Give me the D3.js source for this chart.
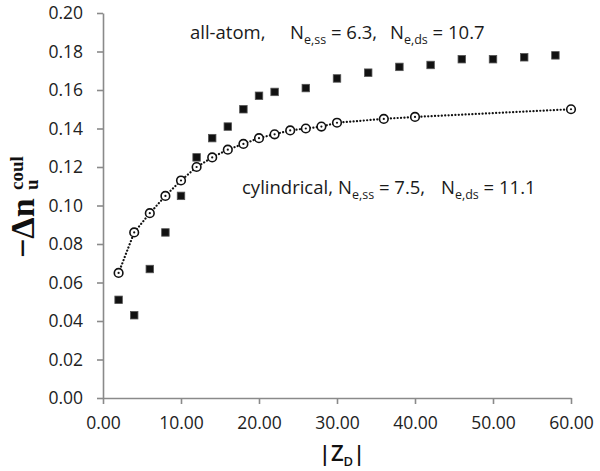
<!DOCTYPE html>
<html>
<head>
<meta charset="utf-8">
<script src="https://cdn.jsdelivr.net/npm/d3@7"></script>
<style>
  body { margin: 0; background: #fff; }
  svg { display: block; font-family: "Open Sans", sans-serif; }
</style>
</head>
<body>
<div id="chart"></div>
<script>
// data
var atomZ = [2, 4, 6, 8, 10, 12, 14, 16, 18, 20, 22, 26, 30, 34, 38, 42, 46, 50, 54, 58];
var atomVals = [0.051, 0.043, 0.067, 0.086, 0.105, 0.125, 0.135, 0.141, 0.150, 0.157, 0.159, 0.161, 0.166, 0.169, 0.172, 0.173, 0.176, 0.176, 0.177, 0.178];

var cylZ = [2, 4, 6, 8, 10, 12, 14, 16, 18, 20, 22, 24, 26, 28, 30, 36, 40, 60];
var cylVals = [0.065, 0.086, 0.096, 0.105, 0.113, 0.120, 0.125, 0.129, 0.132, 0.135, 0.137, 0.139, 0.140, 0.141, 0.143, 0.145, 0.146, 0.150];

var xTicks = [0, 10, 20, 30, 40, 50, 60];
var yTicks = [0, 0.02, 0.04, 0.06, 0.08, 0.10, 0.12, 0.14, 0.16, 0.18, 0.20];

var svgWidth = 600;
var svgHeight = 471;
var margin = { top: 13, right: 29, bottom: 73, left: 103 };
var width = svgWidth - margin.left - margin.right;
var height = svgHeight - margin.top - margin.bottom;

var svg = d3.select("#chart").append("svg")
  .attr("width", svgWidth)
  .attr("height", svgHeight);

var chartGroup = svg.append("g")
  .attr("transform", `translate(${margin.left}, ${margin.top})`);

var xScale = d3.scaleLinear().domain([0, 60]).range([0, width]);
var yScale = d3.scaleLinear().domain([0, 0.2]).range([height, 0]);

var axisColor = "#8a8a8a";

// axes
var xAxis = chartGroup.append("g")
  .attr("transform", "translate(0," + height + ")")
  .call(d3.axisBottom(xScale).tickValues(xTicks).tickFormat(d3.format(".2f"))
    .tickSize(6).tickSizeOuter(0).tickPadding(13));

var yAxis = chartGroup.append("g")
  .call(d3.axisLeft(yScale).tickValues(yTicks).tickFormat(d3.format(".2f"))
    .tickSize(6).tickSizeOuter(0).tickPadding(14));

[xAxis, yAxis].forEach(function(ax) {
  ax.select(".domain").attr("stroke", axisColor).attr("stroke-width", 1.6);
  ax.selectAll(".tick line").attr("stroke", axisColor).attr("stroke-width", 1.6);
  ax.selectAll(".tick text")
    .attr("fill", "#222")
    .style("font-size", "17.5px")
    .style("font-family", "'Open Sans', sans-serif");
});

// dotted line for cylindrical model
var cylData = cylZ.map(function(z, i) { return { z: z, v: cylVals[i] }; });
var atomData = atomZ.map(function(z, i) { return { z: z, v: atomVals[i] }; });

var line = d3.line()
  .x(d => xScale(d.z))
  .y(d => yScale(d.v));

chartGroup.append("path")
  .datum(cylData)
  .attr("d", line)
  .attr("fill", "none")
  .attr("stroke", "#111")
  .attr("stroke-width", 2.2)
  .attr("stroke-linecap", "round")
  .attr("stroke-dasharray", "0.1,3.3");

// squares (all-atom)
var sq = 7.5;
chartGroup.selectAll("rect.atom")
  .data(atomData)
  .enter()
  .append("rect")
    .attr("class", "atom")
    .attr("x", d => xScale(d.z) - sq / 2)
    .attr("y", d => yScale(d.v) - sq / 2)
    .attr("width", sq)
    .attr("height", sq)
    .attr("fill", "#111")
    .attr("stroke", "#555")
    .attr("stroke-width", 0.8);

// open circles with centre dot (cylindrical)
var cyl = chartGroup.selectAll("g.cyl")
  .data(cylData)
  .enter()
  .append("g")
    .attr("class", "cyl")
    .attr("transform", d => `translate(${xScale(d.z)},${yScale(d.v)})`);

cyl.append("circle")
  .attr("r", 4.3)
  .attr("fill", "#fff")
  .attr("stroke", "#111")
  .attr("stroke-width", 1.6);

cyl.append("circle")
  .attr("r", 1.1)
  .attr("fill", "#111");

// annotations
function label(x, y, name, nx1, ss, nx2, ds) {
  var t = svg.append("text")
    .attr("x", x)
    .attr("y", y)
    .attr("fill", "#1a1a1a")
    .style("font-size", "18.5px");
  t.append("tspan").text(name);
  t.append("tspan").attr("x", nx1).text("N");
  t.append("tspan").attr("dy", 5).style("font-size", "12.5px").text("e,ss");
  t.append("tspan").attr("dy", -5).text(ss);
  t.append("tspan").attr("x", nx2).text("N");
  t.append("tspan").attr("dy", 5).style("font-size", "12.5px").text("e,ds");
  t.append("tspan").attr("dy", -5).text(ds);
}

label(190, 39, "all-atom,", 290, " = 6.3,", 390, " = 10.7");
label(242, 194, "cylindrical,", 338, " = 7.5,", 441, " = 11.1");

// x axis title |Z_D|
var xt = svg.append("text")
  .attr("x", 342)
  .attr("y", 461)
  .attr("text-anchor", "middle")
  .attr("fill", "#111")
  .style("font-size", "22px")
  .style("font-weight", "600")
  .style("font-family", "'Open Sans', sans-serif");
xt.append("tspan").text("|Z");
xt.append("tspan").attr("dy", 5).style("font-size", "13px").text("D");
xt.append("tspan").attr("dy", -5).text("|");

// y axis title  −Δn_u^coul
var yt = svg.append("g")
  .attr("transform", "translate(34, 258) rotate(-90)")
  .style("font-family", "'Liberation Serif', serif")
  .style("font-weight", "bold")
  .attr("fill", "#111");

yt.append("text")
  .attr("x", 0)
  .attr("y", 0)
  .style("font-size", "34px")
  .text("\u2212\u0394n");

yt.append("text")
  .attr("x", 68)
  .attr("y", -11)
  .style("font-size", "19px")
  .text("coul");

yt.append("text")
  .attr("x", 68)
  .attr("y", 4)
  .style("font-size", "19px")
  .text("u");
</script>
</body>
</html>
